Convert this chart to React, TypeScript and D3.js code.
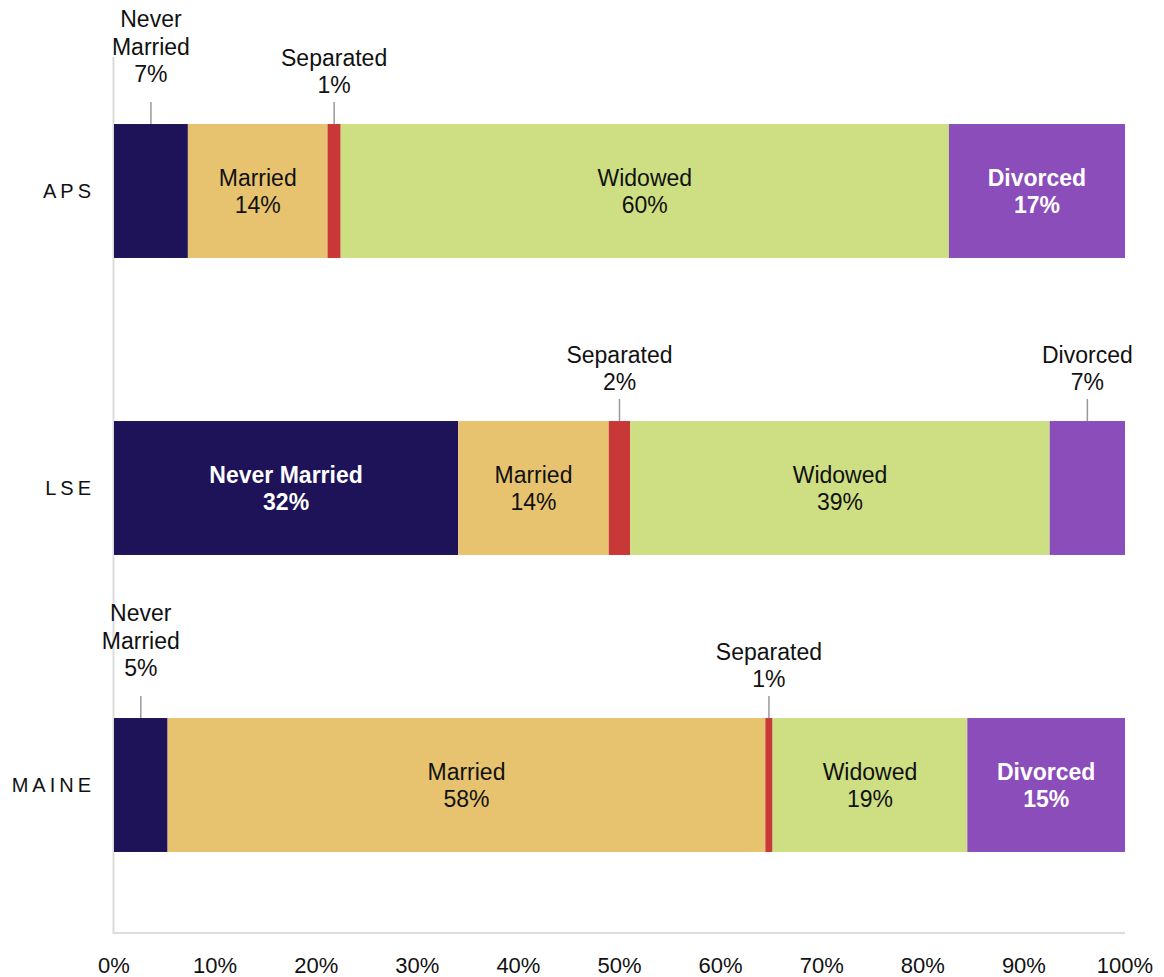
import React from 'react';
import * as d3 from 'd3';

const groups = ['APS', 'LSE', 'MAINE'];
const categories = ['Never Married', 'Married', 'Separated', 'Widowed', 'Divorced'];
const apsValues = [7.3, 13.8, 1.3, 60.1, 17.4];
const lseValues = [32, 14, 2, 39, 7];
const maineValues = [5.2, 58.0, 0.7, 18.9, 15.3];
const colors = ['#1e1258', '#e7c36f', '#c83836', '#cedf83', '#8b4dba'];
const lightText = [true, false, false, false, true];
const tickValues = [0, 0.1, 0.2, 0.3, 0.4, 0.5, 0.6, 0.7, 0.8, 0.9, 1];

const width = 1164;
const height = 977;
const font = '"Liberation Sans", Arial, Helvetica, sans-serif';

export default function App() {
  const valueSets = [apsValues, lseValues, maineValues];
  const rows = groups.map((g, i) => {
    const row: any = { group: g };
    categories.forEach((c, j) => (row[c] = valueSets[i][j]));
    return row;
  });

  const series = d3.stack<any>().keys(categories).offset(d3.stackOffsetExpand)(rows);

  const x = d3.scaleLinear().domain([0, 1]).range([114, 1125]);
  const y = d3.scaleBand().domain(groups).range([42.5, 933.5]).paddingInner(0.549).paddingOuter(0.2745);
  const fmt = d3.format('.0%');

  const axisX = 113.5;
  const axisBottom = 933;

  return (
    <svg width={width} height={height} style={{ position: 'absolute', left: 0, top: 0, background: '#fff' }} fontFamily={font}>
      {/* axis lines */}
      <line x1={axisX} x2={axisX} y1={57} y2={axisBottom} stroke="#dcdcdc" strokeWidth={2} />
      <line x1={axisX - 1} x2={x(1)} y1={axisBottom} y2={axisBottom} stroke="#dcdcdc" strokeWidth={2} />

      {tickValues.map((t) => (
        <text key={t} x={x(t)} y={973} textAnchor="middle" fontSize={22} fill="#111">
          {fmt(t)}
        </text>
      ))}

      {groups.map((g) => (
        <text key={g} x={95} y={(y(g) as number) + y.bandwidth() / 2} dy="0.36em" textAnchor="end"
          fontSize={20} letterSpacing={4} fill="#111">
          {g}
        </text>
      ))}

      {series.map((s, si) => (
        <g key={s.key}>
          {s.map((d: any, gi) => {
            const g = groups[gi];
            const x0 = x(d[0]);
            const x1 = x(d[1]);
            const top = y(g) as number;
            const h = y.bandwidth();
            const cx = (x0 + x1) / 2;
            const raw = valueSets[gi][si];
            const pct = Math.round(raw) + '%';
            const inside = x1 - x0 > 100;
            return (
              <g key={g}>
                <rect x={x0} y={top} width={x1 - x0} height={h} fill={colors[si]} />
                {inside ? (
                  <text x={cx} y={top + h / 2} textAnchor="middle" fontSize={23}
                    fill={lightText[si] ? '#fff' : '#111'} fontWeight={lightText[si] ? 'bold' : 'normal'}>
                    <tspan x={cx} dy="-0.2em">{s.key}</tspan>
                    <tspan x={cx} dy="1.17em">{pct}</tspan>
                  </text>
                ) : (
                  (() => {
                    const lines = [...(s.key as string).split(' '), pct];
                    const last = top - (lines.length === 3 ? 42 : 31);
                    return (
                      <g>
                        <line x1={cx} x2={cx} y1={top - 22} y2={top} stroke="#999" strokeWidth={1.5} />
                        {lines.map((l, li) => (
                          <text key={li} x={cx} y={last - (lines.length - 1 - li) * 27.5} textAnchor="middle"
                            fontSize={23} fill="#111">
                            {l}
                          </text>
                        ))}
                      </g>
                    );
                  })()
                )}
              </g>
            );
          })}
        </g>
      ))}
    </svg>
  );
}
